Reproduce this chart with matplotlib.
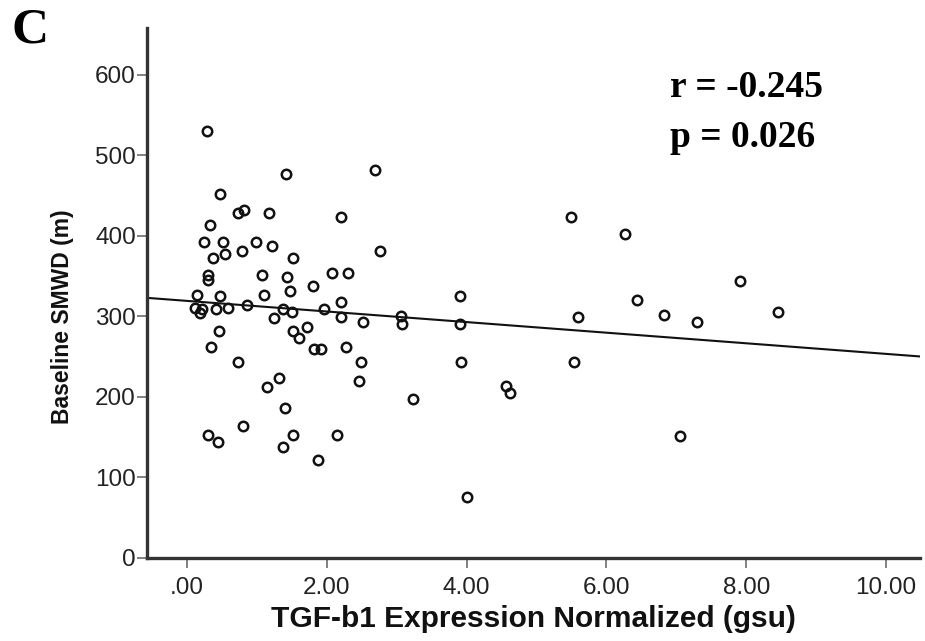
import numpy as np
import matplotlib
matplotlib.use("Agg")
import matplotlib.pyplot as plt

# TGF-b1 expression (gsu) and baseline SMWD (m)
tgf = [0.29, 1.41, 0.48, 0.73, 0.81, 1.17, 2.21, 0.33, 0.25, 0.51,
       0.99, 1.22, 0.79, 0.54, 0.37, 1.52, 0.30, 0.30, 1.07, 1.43,
       2.08, 2.30, 1.80, 1.48, 0.14, 0.48, 1.10, 2.21, 0.12, 0.22,
       0.19, 0.42, 0.59, 0.86, 1.24, 1.38, 1.50, 1.96, 2.21, 0.46,
       1.52, 1.72, 1.61, 0.34, 1.82, 1.92, 2.28, 0.73, 1.31, 1.15,
       1.40, 0.80, 0.30, 0.44, 1.52, 1.38, 2.15, 1.87, 2.69, 5.50,
       6.26, 2.76, 3.90, 2.52, 3.06, 3.07, 3.90, 5.60, 2.49, 2.46,
       3.92, 5.53, 4.57, 4.62, 3.23, 4.00, 7.91, 6.44, 6.82, 7.29,
       8.45, 7.05]
smwd = [530, 477, 452, 428, 432, 428, 423, 414, 393, 393,
        393, 388, 381, 378, 373, 373, 352, 345, 351, 349,
        354, 354, 338, 332, 327, 325, 327, 318, 310, 309,
        304, 309, 311, 314, 298, 309, 305, 309, 299, 282,
        282, 287, 273, 262, 260, 260, 262, 244, 224, 212,
        186, 164, 153, 144, 153, 138, 153, 122, 482, 423,
        403, 381, 325, 293, 300, 291, 291, 299, 244, 220,
        244, 244, 214, 205, 198, 76, 344, 320, 302, 293,
        305, 152]

x_ticks = [0, 2, 4, 6, 8, 10]
x_tick_labels = [".00", "2.00", "4.00", "6.00", "8.00", "10.00"]
y_ticks = [0, 100, 200, 300, 400, 500, 600]
stats_lines = ["r = -0.245", "p = 0.026"]
panel_label = "C"

x = np.array(tgf)
y = np.array(smwd)

fig = plt.figure(figsize=(9.25, 6.41), dpi=100)
ax = fig.add_axes([0.159, 0.1295, 0.836, 0.8265])

ax.plot(x, y, linestyle="none", marker="o", markersize=6.8,
        markerfacecolor="none", markeredgecolor="#111111",
        markeredgewidth=1.8, zorder=3)

xlim = (-0.57, 10.49)
slope, intercept = np.polyfit(x, y, 1)
xs = np.array(xlim)
ax.plot(xs, intercept + slope * xs, color="#111111", linewidth=1.5, zorder=2)

ax.set_xlim(*xlim)
ax.set_ylim(0, 658)
ax.set_xticks(x_ticks)
ax.set_xticklabels(x_tick_labels)
ax.set_yticks(y_ticks)

for s in ["top", "right"]:
    ax.spines[s].set_visible(False)
for s in ["left", "bottom"]:
    ax.spines[s].set_linewidth(2.4)
    ax.spines[s].set_color("#333333")

ax.tick_params(axis="both", direction="out", length=7, width=1.3,
               color="#777777", labelcolor="#222222", labelsize=17.5,
               labelfontfamily="Liberation Sans")
ax.tick_params(axis="x", pad=7)
ax.tick_params(axis="y", pad=1)

ax.set_xlabel("TGF-b1 Expression Normalized (gsu)", fontsize=21.5,
              fontweight="bold", family="Liberation Sans", color="#111111")
ax.xaxis.set_label_coords(0.5, -0.089)
ax.set_ylabel("Baseline SMWD (m)", fontsize=16.5, fontweight="bold",
              family="Liberation Sans", color="#111111")
ax.yaxis.set_label_coords(-0.095, 0.455)

line_y = [0.8487, 0.7707]
for txt, yy in zip(stats_lines, line_y):
    fig.text(0.7245, yy, txt, fontsize=27, fontweight="bold",
             family="Liberation Serif", va="baseline", ha="left")
fig.text(0.012, 0.933, panel_label, fontsize=37, fontweight="bold",
         family="Liberation Serif", va="baseline", ha="left")

fig.savefig("out.png", dpi=100)
